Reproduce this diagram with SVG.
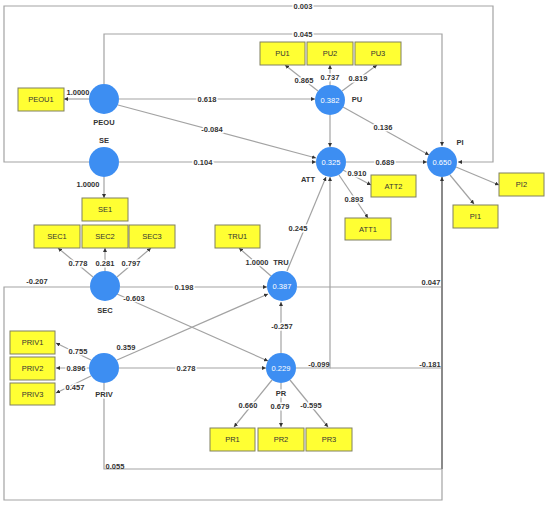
<svg xmlns="http://www.w3.org/2000/svg" width="550" height="506" viewBox="0 0 550 506">
<defs>
<marker id="ar" viewBox="0 0 6 6" refX="6" refY="3" markerWidth="4" markerHeight="4" markerUnits="userSpaceOnUse" orient="auto"><path d="M0,0 L6,3 L0,6 z" fill="#333"/></marker>
<style>
.c{fill:none;stroke:#a3a3a3;stroke-width:1.2}
.a{marker-end:url(#ar)}
.t{stroke:#8a8a8a;stroke-width:2}
.lb{font-family:"Liberation Sans",Arial,sans-serif;font-size:7.5px;font-weight:bold;fill:#333;text-anchor:middle;dominant-baseline:central;paint-order:stroke;stroke:#fff;stroke-width:3px}
.ln{font-family:"Liberation Sans",Arial,sans-serif;font-size:7.5px;font-weight:bold;fill:#333;text-anchor:middle;dominant-baseline:central}
.cir{fill:#3d8ef2}
.cv{font-family:"Liberation Sans",Arial,sans-serif;font-size:7.5px;fill:#fff;text-anchor:middle;dominant-baseline:central}
.bx{fill:#ffff33;stroke:#808060;stroke-width:1}
.bt{font-family:"Liberation Sans",Arial,sans-serif;font-size:7.5px;fill:#333;text-anchor:middle;dominant-baseline:central}
.nl{font-family:"Liberation Sans",Arial,sans-serif;font-size:7.5px;font-weight:bold;fill:#333;text-anchor:middle;dominant-baseline:central;paint-order:stroke;stroke:#fff;stroke-width:3px}
</style>
</defs>
<rect width="550" height="506" fill="#fff"/>
<g id="connectors">
<path class="c a" d="M89,162 H4 V6 H493 V162 H458"/>
<path class="c a" d="M104,84 V34 H442 V146"/>
<path class="c a" d="M89,99 H64"/>
<path class="c a" d="M119,99 H315"/>
<path class="c a" d="M118,105 L316,158"/>
<path class="c a" d="M119,162 H316"/>
<path class="c a" d="M104,177 V198"/>
<path class="c a" d="M318,91 L285,65"/>
<path class="c a" d="M330,85 V65"/>
<path class="c a" d="M342,91 L377,65"/>
<path class="c a" d="M330,115 V147"/>
<path class="c a" d="M343,107 L429,155"/>
<path class="c a" d="M346,162 H427"/>
<path class="c a" d="M343,170 L371,185"/>
<path class="c a" d="M339,175 L368,218"/>
<path class="c a" d="M456,167 L499,185"/>
<path class="c a" d="M450,175 L474,204"/>
<path class="c a" d="M287,271 L326,177"/>
<path class="c a" d="M271,276 L239,248"/>
<path class="c" d="M297,287 H442"/>
<path class="c a" d="M93,277 L58,248"/>
<path class="c a" d="M105,271 V248"/>
<path class="c a" d="M117,277 L151,248"/>
<path class="c a" d="M120,287 H267"/>
<path class="c a" d="M117,294 L268,361"/>
<path class="c" d="M90,287 H4 V500 H442 V469"/>
<path class="c a" d="M91,360 L56,343"/>
<path class="c a" d="M89,368 H56"/>
<path class="c a" d="M91,376 L56,393"/>
<path class="c a" d="M117,360 L268,294"/>
<path class="c a" d="M119,368 H266"/>
<path class="c" d="M104,383 V469 H442"/>
<path class="c a" d="M281,383 V427"/>
<path class="c a" d="M281,353 V302"/>
<path class="c a" d="M296,368 H330 V177"/>
<path class="c" d="M330,368 H442"/>
<path class="c a" d="M272,380 L234,427"/>
<path class="c a" d="M290,380 L328,427"/>
<path class="c t a" d="M442,469 V177"/>
</g>
<g id="labels">
<text class="lb" x="303" y="6">0.003</text>
<text class="lb" x="303" y="34">0.045</text>
<text class="ln" x="78" y="92">1.0000</text>
<text class="lb" x="207" y="99">0.618</text>
<text class="lb" x="212" y="129">-0.084</text>
<text class="lb" x="203" y="162">0.104</text>
<text class="lb" x="88" y="184">1.0000</text>
<text class="lb" x="304" y="80">0.865</text>
<text class="lb" x="330" y="77">0.737</text>
<text class="lb" x="358" y="78">0.819</text>
<text class="lb" x="383" y="127">0.136</text>
<text class="lb" x="385" y="162">0.689</text>
<text class="lb" x="357" y="173">0.910</text>
<text class="lb" x="354" y="199">0.893</text>
<text class="lb" x="298" y="228">0.245</text>
<text class="lb" x="257" y="262">1.0000</text>
<text class="ln" x="431" y="282">0.047</text>
<text class="lb" x="78" y="263">0.778</text>
<text class="lb" x="105" y="263">0.281</text>
<text class="lb" x="131" y="263">0.797</text>
<text class="ln" x="37" y="281">-0.207</text>
<text class="lb" x="184" y="287">0.198</text>
<text class="lb" x="134" y="298">-0.603</text>
<text class="lb" x="126" y="347">0.359</text>
<text class="lb" x="78" y="351">0.755</text>
<text class="lb" x="76" y="368">0.896</text>
<text class="lb" x="75" y="387">0.457</text>
<text class="lb" x="186" y="368">0.278</text>
<text class="lb" x="282" y="326">-0.257</text>
<text class="ln" x="319" y="364">-0.099</text>
<text class="ln" x="430" y="364">-0.181</text>
<text class="lb" x="248" y="405">0.660</text>
<text class="lb" x="280" y="406">0.679</text>
<text class="lb" x="311" y="405">-0.595</text>
<text class="ln" x="115" y="466">0.055</text>
</g>
<g id="PEOU"><circle class="cir" cx="104" cy="99" r="15"/><text class="nl" x="104" y="122">PEOU</text></g>
<g id="SE"><circle class="cir" cx="104" cy="162" r="15"/><text class="nl" x="104" y="140">SE</text></g>
<g id="SEC"><circle class="cir" cx="105" cy="286" r="15"/><text class="nl" x="105" y="310">SEC</text></g>
<g id="PRIV"><circle class="cir" cx="104" cy="368" r="15"/><text class="nl" x="104" y="394">PRIV</text></g>
<g id="PU"><circle class="cir" cx="330" cy="100" r="15"/><text class="cv" x="330" y="100">0.382</text><text class="ln" x="357" y="99">PU</text></g>
<g id="ATT"><circle class="cir" cx="331" cy="162" r="15"/><text class="cv" x="331" y="162">0.325</text><text class="ln" x="308" y="179">ATT</text></g>
<g id="PI"><circle class="cir" cx="442" cy="162" r="15"/><text class="cv" x="442" y="162">0.650</text><text class="ln" x="460" y="142">PI</text></g>
<g id="TRU"><circle class="cir" cx="282" cy="286" r="15"/><text class="cv" x="282" y="286">0.387</text><text class="ln" x="281" y="262">TRU</text></g>
<g id="PR"><circle class="cir" cx="281" cy="368" r="15"/><text class="cv" x="281" y="368">0.229</text><text class="nl" x="281" y="393">PR</text></g>
<g id="PEOU1"><rect class="bx" x="18" y="88" width="46" height="23"/><text class="bt" x="41" y="99.5">PEOU1</text></g>
<g id="PU1"><rect class="bx" x="260" y="42" width="45" height="23"/><text class="bt" x="282.5" y="53.5">PU1</text></g>
<g id="PU2"><rect class="bx" x="307" y="42" width="46" height="23"/><text class="bt" x="330" y="53.5">PU2</text></g>
<g id="PU3"><rect class="bx" x="355" y="42" width="46" height="23"/><text class="bt" x="378" y="53.5">PU3</text></g>
<g id="ATT2"><rect class="bx" x="371" y="175" width="45" height="22"/><text class="bt" x="393.5" y="186">ATT2</text></g>
<g id="ATT1"><rect class="bx" x="345" y="218" width="46" height="22"/><text class="bt" x="368" y="229">ATT1</text></g>
<g id="PI2"><rect class="bx" x="499" y="173" width="45" height="23"/><text class="bt" x="521.5" y="184.5">PI2</text></g>
<g id="PI1"><rect class="bx" x="453" y="205" width="45" height="23"/><text class="bt" x="475.5" y="216.5">PI1</text></g>
<g id="SE1"><rect class="bx" x="82" y="198" width="46" height="23"/><text class="bt" x="105" y="209.5">SE1</text></g>
<g id="SEC1"><rect class="bx" x="34" y="225" width="46" height="23"/><text class="bt" x="57" y="236.5">SEC1</text></g>
<g id="SEC2"><rect class="bx" x="82" y="225" width="46" height="23"/><text class="bt" x="105" y="236.5">SEC2</text></g>
<g id="SEC3"><rect class="bx" x="129" y="225" width="46" height="23"/><text class="bt" x="152" y="236.5">SEC3</text></g>
<g id="TRU1"><rect class="bx" x="215" y="225" width="45" height="23"/><text class="bt" x="237.5" y="236.5">TRU1</text></g>
<g id="PRIV1"><rect class="bx" x="10" y="331" width="45" height="23"/><text class="bt" x="32.5" y="342.5">PRIV1</text></g>
<g id="PRIV2"><rect class="bx" x="10" y="357" width="45" height="23"/><text class="bt" x="32.5" y="368.5">PRIV2</text></g>
<g id="PRIV3"><rect class="bx" x="10" y="383" width="45" height="22"/><text class="bt" x="32.5" y="394">PRIV3</text></g>
<g id="PR1"><rect class="bx" x="210" y="428" width="45" height="23"/><text class="bt" x="232.5" y="439.5">PR1</text></g>
<g id="PR2"><rect class="bx" x="258" y="428" width="46" height="23"/><text class="bt" x="281" y="439.5">PR2</text></g>
<g id="PR3"><rect class="bx" x="306" y="428" width="46" height="23"/><text class="bt" x="329" y="439.5">PR3</text></g>
</svg>
